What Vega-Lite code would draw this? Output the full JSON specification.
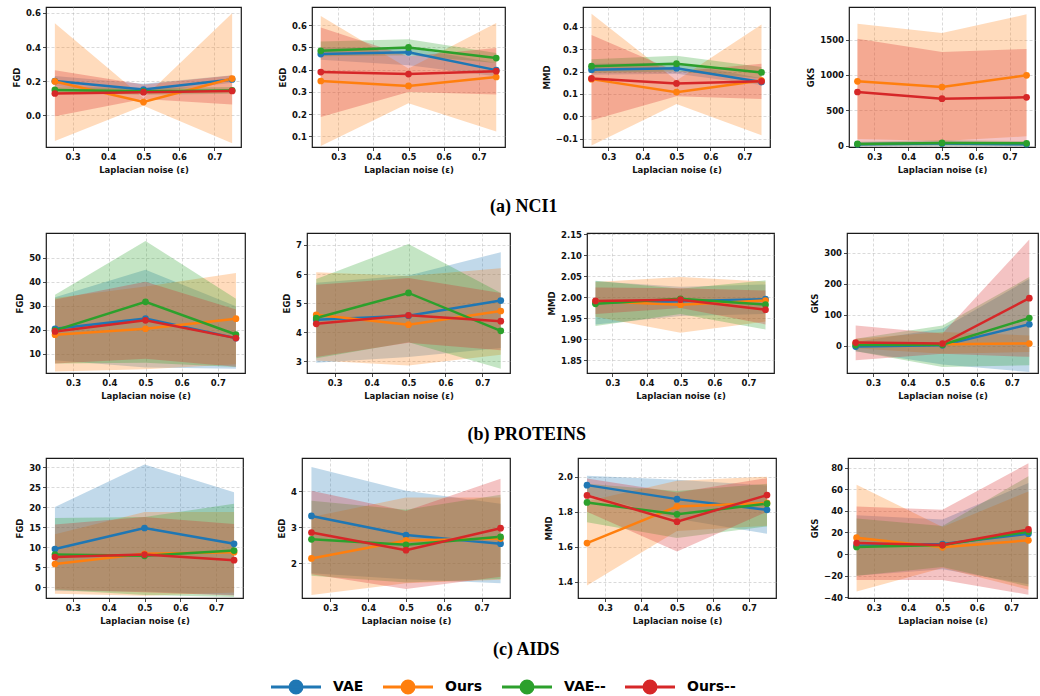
{
  "$schema": "https://vega.github.io/schema/vega-lite/v6.json",
  "padding": {"left": 11, "top": 6, "right": 2, "bottom": 0},
  "spacing": 10,
  "datasets": {
    "runs": [
      {"ds":"NCI1","metric":"FGD","model":"VAE","eps":0.25,"mean":0.20,"lo":0.17,"hi":0.23},
      {"ds":"NCI1","metric":"FGD","model":"VAE","eps":0.5,"mean":0.15,"lo":0.13,"hi":0.185},
      {"ds":"NCI1","metric":"FGD","model":"VAE","eps":0.75,"mean":0.21,"lo":0.19,"hi":0.235},
      {"ds":"NCI1","metric":"FGD","model":"Ours","eps":0.25,"mean":0.198,"lo":-0.152,"hi":0.54},
      {"ds":"NCI1","metric":"FGD","model":"Ours","eps":0.5,"mean":0.077,"lo":0.055,"hi":0.10},
      {"ds":"NCI1","metric":"FGD","model":"Ours","eps":0.75,"mean":0.215,"lo":-0.165,"hi":0.598},
      {"ds":"NCI1","metric":"FGD","model":"VAE--","eps":0.25,"mean":0.148,"lo":0.13,"hi":0.165},
      {"ds":"NCI1","metric":"FGD","model":"VAE--","eps":0.5,"mean":0.14,"lo":0.12,"hi":0.16},
      {"ds":"NCI1","metric":"FGD","model":"VAE--","eps":0.75,"mean":0.145,"lo":0.125,"hi":0.165},
      {"ds":"NCI1","metric":"FGD","model":"Ours--","eps":0.25,"mean":0.127,"lo":-0.006,"hi":0.263},
      {"ds":"NCI1","metric":"FGD","model":"Ours--","eps":0.5,"mean":0.135,"lo":0.095,"hi":0.18},
      {"ds":"NCI1","metric":"FGD","model":"Ours--","eps":0.75,"mean":0.142,"lo":0.063,"hi":0.233},

      {"ds":"NCI1","metric":"EGD","model":"VAE","eps":0.25,"mean":0.47,"lo":0.445,"hi":0.50},
      {"ds":"NCI1","metric":"EGD","model":"VAE","eps":0.5,"mean":0.478,"lo":0.42,"hi":0.50},
      {"ds":"NCI1","metric":"EGD","model":"VAE","eps":0.75,"mean":0.398,"lo":0.37,"hi":0.43},
      {"ds":"NCI1","metric":"EGD","model":"Ours","eps":0.25,"mean":0.349,"lo":0.057,"hi":0.642},
      {"ds":"NCI1","metric":"EGD","model":"Ours","eps":0.5,"mean":0.327,"lo":0.249,"hi":0.405},
      {"ds":"NCI1","metric":"EGD","model":"Ours","eps":0.75,"mean":0.367,"lo":0.122,"hi":0.61},
      {"ds":"NCI1","metric":"EGD","model":"VAE--","eps":0.25,"mean":0.485,"lo":0.46,"hi":0.527},
      {"ds":"NCI1","metric":"EGD","model":"VAE--","eps":0.5,"mean":0.50,"lo":0.465,"hi":0.537},
      {"ds":"NCI1","metric":"EGD","model":"VAE--","eps":0.75,"mean":0.452,"lo":0.43,"hi":0.475},
      {"ds":"NCI1","metric":"EGD","model":"Ours--","eps":0.25,"mean":0.389,"lo":0.187,"hi":0.59},
      {"ds":"NCI1","metric":"EGD","model":"Ours--","eps":0.5,"mean":0.38,"lo":0.30,"hi":0.46},
      {"ds":"NCI1","metric":"EGD","model":"Ours--","eps":0.75,"mean":0.393,"lo":0.288,"hi":0.497},

      {"ds":"NCI1","metric":"MMD","model":"VAE","eps":0.25,"mean":0.208,"lo":0.185,"hi":0.235},
      {"ds":"NCI1","metric":"MMD","model":"VAE","eps":0.5,"mean":0.215,"lo":0.19,"hi":0.24},
      {"ds":"NCI1","metric":"MMD","model":"VAE","eps":0.75,"mean":0.153,"lo":0.14,"hi":0.17},
      {"ds":"NCI1","metric":"MMD","model":"Ours","eps":0.25,"mean":0.166,"lo":-0.13,"hi":0.458},
      {"ds":"NCI1","metric":"MMD","model":"Ours","eps":0.5,"mean":0.108,"lo":0.055,"hi":0.16},
      {"ds":"NCI1","metric":"MMD","model":"Ours","eps":0.75,"mean":0.16,"lo":-0.084,"hi":0.41},
      {"ds":"NCI1","metric":"MMD","model":"VAE--","eps":0.25,"mean":0.224,"lo":0.195,"hi":0.255},
      {"ds":"NCI1","metric":"MMD","model":"VAE--","eps":0.5,"mean":0.235,"lo":0.20,"hi":0.27},
      {"ds":"NCI1","metric":"MMD","model":"VAE--","eps":0.75,"mean":0.196,"lo":0.17,"hi":0.22},
      {"ds":"NCI1","metric":"MMD","model":"Ours--","eps":0.25,"mean":0.169,"lo":-0.018,"hi":0.363},
      {"ds":"NCI1","metric":"MMD","model":"Ours--","eps":0.5,"mean":0.147,"lo":0.09,"hi":0.20},
      {"ds":"NCI1","metric":"MMD","model":"Ours--","eps":0.75,"mean":0.156,"lo":0.077,"hi":0.235},

      {"ds":"NCI1","metric":"GKS","model":"VAE","eps":0.25,"mean":20,"lo":-5,"hi":45},
      {"ds":"NCI1","metric":"GKS","model":"VAE","eps":0.5,"mean":30,"lo":0,"hi":60},
      {"ds":"NCI1","metric":"GKS","model":"VAE","eps":0.75,"mean":20,"lo":-5,"hi":45},
      {"ds":"NCI1","metric":"GKS","model":"Ours","eps":0.25,"mean":910,"lo":94,"hi":1726},
      {"ds":"NCI1","metric":"GKS","model":"Ours","eps":0.5,"mean":830,"lo":66,"hi":1594},
      {"ds":"NCI1","metric":"GKS","model":"Ours","eps":0.75,"mean":995,"lo":132,"hi":1858},
      {"ds":"NCI1","metric":"GKS","model":"VAE--","eps":0.25,"mean":24,"lo":-6,"hi":54},
      {"ds":"NCI1","metric":"GKS","model":"VAE--","eps":0.5,"mean":38,"lo":0,"hi":76},
      {"ds":"NCI1","metric":"GKS","model":"VAE--","eps":0.75,"mean":33,"lo":0,"hi":66},
      {"ds":"NCI1","metric":"GKS","model":"Ours--","eps":0.25,"mean":759,"lo":4,"hi":1514},
      {"ds":"NCI1","metric":"GKS","model":"Ours--","eps":0.5,"mean":665,"lo":5,"hi":1325},
      {"ds":"NCI1","metric":"GKS","model":"Ours--","eps":0.75,"mean":684,"lo":0,"hi":1368},

      {"ds":"PROTEINS","metric":"FGD","model":"VAE","eps":0.25,"mean":20.4,"lo":7.3,"hi":33.5},
      {"ds":"PROTEINS","metric":"FGD","model":"VAE","eps":0.5,"mean":24.6,"lo":4.3,"hi":44.9},
      {"ds":"PROTEINS","metric":"FGD","model":"VAE","eps":0.75,"mean":16.5,"lo":3.8,"hi":29.8},
      {"ds":"PROTEINS","metric":"FGD","model":"Ours","eps":0.25,"mean":17.9,"lo":2.6,"hi":33.2},
      {"ds":"PROTEINS","metric":"FGD","model":"Ours","eps":0.5,"mean":20.4,"lo":3.6,"hi":38.0},
      {"ds":"PROTEINS","metric":"FGD","model":"Ours","eps":0.75,"mean":24.6,"lo":5.6,"hi":43.6},
      {"ds":"PROTEINS","metric":"FGD","model":"VAE--","eps":0.25,"mean":19.7,"lo":5.9,"hi":34.5},
      {"ds":"PROTEINS","metric":"FGD","model":"VAE--","eps":0.5,"mean":31.6,"lo":6.3,"hi":56.9},
      {"ds":"PROTEINS","metric":"FGD","model":"VAE--","eps":0.75,"mean":18.0,"lo":4.5,"hi":32.9},
      {"ds":"PROTEINS","metric":"FGD","model":"Ours--","eps":0.25,"mean":19.3,"lo":6.0,"hi":32.6},
      {"ds":"PROTEINS","metric":"FGD","model":"Ours--","eps":0.5,"mean":23.9,"lo":7.9,"hi":39.9},
      {"ds":"PROTEINS","metric":"FGD","model":"Ours--","eps":0.75,"mean":16.5,"lo":4.6,"hi":28.4},

      {"ds":"PROTEINS","metric":"EGD","model":"VAE","eps":0.25,"mean":4.43,"lo":2.95,"hi":5.7},
      {"ds":"PROTEINS","metric":"EGD","model":"VAE","eps":0.5,"mean":4.57,"lo":3.15,"hi":5.95},
      {"ds":"PROTEINS","metric":"EGD","model":"VAE","eps":0.75,"mean":5.09,"lo":3.46,"hi":6.75},
      {"ds":"PROTEINS","metric":"EGD","model":"Ours","eps":0.25,"mean":4.6,"lo":3.03,"hi":6.06},
      {"ds":"PROTEINS","metric":"EGD","model":"Ours","eps":0.5,"mean":4.26,"lo":2.86,"hi":5.93},
      {"ds":"PROTEINS","metric":"EGD","model":"Ours","eps":0.75,"mean":4.73,"lo":3.23,"hi":6.2},
      {"ds":"PROTEINS","metric":"EGD","model":"VAE--","eps":0.25,"mean":4.49,"lo":3.11,"hi":5.83},
      {"ds":"PROTEINS","metric":"EGD","model":"VAE--","eps":0.5,"mean":5.35,"lo":3.66,"hi":7.03},
      {"ds":"PROTEINS","metric":"EGD","model":"VAE--","eps":0.75,"mean":4.05,"lo":2.75,"hi":5.35},
      {"ds":"PROTEINS","metric":"EGD","model":"Ours--","eps":0.25,"mean":4.29,"lo":3.15,"hi":5.63},
      {"ds":"PROTEINS","metric":"EGD","model":"Ours--","eps":0.5,"mean":4.58,"lo":3.64,"hi":5.86},
      {"ds":"PROTEINS","metric":"EGD","model":"Ours--","eps":0.75,"mean":4.38,"lo":3.38,"hi":5.35},

      {"ds":"PROTEINS","metric":"MMD","model":"VAE","eps":0.25,"mean":1.986,"lo":1.935,"hi":2.038},
      {"ds":"PROTEINS","metric":"MMD","model":"VAE","eps":0.5,"mean":1.99,"lo":1.955,"hi":2.025},
      {"ds":"PROTEINS","metric":"MMD","model":"VAE","eps":0.75,"mean":1.995,"lo":1.96,"hi":2.03},
      {"ds":"PROTEINS","metric":"MMD","model":"Ours","eps":0.25,"mean":1.99,"lo":1.953,"hi":2.036},
      {"ds":"PROTEINS","metric":"MMD","model":"Ours","eps":0.5,"mean":1.982,"lo":1.915,"hi":2.048},
      {"ds":"PROTEINS","metric":"MMD","model":"Ours","eps":0.75,"mean":1.992,"lo":1.942,"hi":2.037},
      {"ds":"PROTEINS","metric":"MMD","model":"VAE--","eps":0.25,"mean":1.984,"lo":1.931,"hi":2.039},
      {"ds":"PROTEINS","metric":"MMD","model":"VAE--","eps":0.5,"mean":1.996,"lo":1.96,"hi":2.02},
      {"ds":"PROTEINS","metric":"MMD","model":"VAE--","eps":0.75,"mean":1.982,"lo":1.923,"hi":2.04},
      {"ds":"PROTEINS","metric":"MMD","model":"Ours--","eps":0.25,"mean":1.991,"lo":1.96,"hi":2.023},
      {"ds":"PROTEINS","metric":"MMD","model":"Ours--","eps":0.5,"mean":1.994,"lo":1.974,"hi":2.021},
      {"ds":"PROTEINS","metric":"MMD","model":"Ours--","eps":0.75,"mean":1.97,"lo":1.935,"hi":2.016},

      {"ds":"PROTEINS","metric":"GKS","model":"VAE","eps":0.25,"mean":-2,"lo":-17,"hi":13},
      {"ds":"PROTEINS","metric":"GKS","model":"VAE","eps":0.5,"mean":2,"lo":-60,"hi":56},
      {"ds":"PROTEINS","metric":"GKS","model":"VAE","eps":0.75,"mean":70,"lo":-84,"hi":216},
      {"ds":"PROTEINS","metric":"GKS","model":"Ours","eps":0.25,"mean":8,"lo":-7,"hi":23},
      {"ds":"PROTEINS","metric":"GKS","model":"Ours","eps":0.5,"mean":6,"lo":-25,"hi":45},
      {"ds":"PROTEINS","metric":"GKS","model":"Ours","eps":0.75,"mean":8,"lo":-19,"hi":34},
      {"ds":"PROTEINS","metric":"GKS","model":"VAE--","eps":0.25,"mean":3,"lo":-17,"hi":23},
      {"ds":"PROTEINS","metric":"GKS","model":"VAE--","eps":0.5,"mean":4,"lo":-68,"hi":66},
      {"ds":"PROTEINS","metric":"GKS","model":"VAE--","eps":0.75,"mean":90,"lo":-62,"hi":222},
      {"ds":"PROTEINS","metric":"GKS","model":"Ours--","eps":0.25,"mean":11,"lo":-46,"hi":66},
      {"ds":"PROTEINS","metric":"GKS","model":"Ours--","eps":0.5,"mean":8,"lo":-25,"hi":40},
      {"ds":"PROTEINS","metric":"GKS","model":"Ours--","eps":0.75,"mean":154,"lo":-35,"hi":343},

      {"ds":"AIDS","metric":"FGD","model":"VAE","eps":0.25,"mean":9.5,"lo":-1.0,"hi":20.0},
      {"ds":"AIDS","metric":"FGD","model":"VAE","eps":0.5,"mean":14.75,"lo":-1.1,"hi":30.6},
      {"ds":"AIDS","metric":"FGD","model":"VAE","eps":0.75,"mean":10.8,"lo":-2.0,"hi":23.7},
      {"ds":"AIDS","metric":"FGD","model":"Ours","eps":0.25,"mean":5.75,"lo":-1.7,"hi":13.2},
      {"ds":"AIDS","metric":"FGD","model":"Ours","eps":0.5,"mean":8.3,"lo":-2.2,"hi":18.75},
      {"ds":"AIDS","metric":"FGD","model":"Ours","eps":0.75,"mean":8.7,"lo":-1.4,"hi":18.75},
      {"ds":"AIDS","metric":"FGD","model":"VAE--","eps":0.25,"mean":8.1,"lo":-0.7,"hi":17.25},
      {"ds":"AIDS","metric":"FGD","model":"VAE--","eps":0.5,"mean":7.8,"lo":-2.0,"hi":17.5},
      {"ds":"AIDS","metric":"FGD","model":"VAE--","eps":0.75,"mean":9.1,"lo":-2.5,"hi":20.8},
      {"ds":"AIDS","metric":"FGD","model":"Ours--","eps":0.25,"mean":7.5,"lo":-0.6,"hi":15.6},
      {"ds":"AIDS","metric":"FGD","model":"Ours--","eps":0.5,"mean":8.1,"lo":-1.3,"hi":17.5},
      {"ds":"AIDS","metric":"FGD","model":"Ours--","eps":0.75,"mean":6.7,"lo":-2.1,"hi":15.75},

      {"ds":"AIDS","metric":"EGD","model":"VAE","eps":0.25,"mean":3.31,"lo":1.72,"hi":4.67},
      {"ds":"AIDS","metric":"EGD","model":"VAE","eps":0.5,"mean":2.78,"lo":1.55,"hi":4.01},
      {"ds":"AIDS","metric":"EGD","model":"VAE","eps":0.75,"mean":2.54,"lo":1.44,"hi":3.65},
      {"ds":"AIDS","metric":"EGD","model":"Ours","eps":0.25,"mean":2.13,"lo":1.11,"hi":3.28},
      {"ds":"AIDS","metric":"EGD","model":"Ours","eps":0.5,"mean":2.63,"lo":1.44,"hi":3.82},
      {"ds":"AIDS","metric":"EGD","model":"Ours","eps":0.75,"mean":2.68,"lo":1.54,"hi":3.82},
      {"ds":"AIDS","metric":"EGD","model":"VAE--","eps":0.25,"mean":2.66,"lo":1.65,"hi":3.73},
      {"ds":"AIDS","metric":"EGD","model":"VAE--","eps":0.5,"mean":2.51,"lo":1.46,"hi":3.48},
      {"ds":"AIDS","metric":"EGD","model":"VAE--","eps":0.75,"mean":2.73,"lo":1.56,"hi":3.9},
      {"ds":"AIDS","metric":"EGD","model":"Ours--","eps":0.25,"mean":2.85,"lo":1.69,"hi":4.01},
      {"ds":"AIDS","metric":"EGD","model":"Ours--","eps":0.5,"mean":2.36,"lo":1.28,"hi":3.45},
      {"ds":"AIDS","metric":"EGD","model":"Ours--","eps":0.75,"mean":2.97,"lo":1.62,"hi":4.34},

      {"ds":"AIDS","metric":"MMD","model":"VAE","eps":0.25,"mean":1.952,"lo":1.90,"hi":2.006},
      {"ds":"AIDS","metric":"MMD","model":"VAE","eps":0.5,"mean":1.872,"lo":1.76,"hi":1.983},
      {"ds":"AIDS","metric":"MMD","model":"VAE","eps":0.75,"mean":1.811,"lo":1.674,"hi":1.95},
      {"ds":"AIDS","metric":"MMD","model":"Ours","eps":0.25,"mean":1.621,"lo":1.379,"hi":1.86},
      {"ds":"AIDS","metric":"MMD","model":"Ours","eps":0.5,"mean":1.83,"lo":1.69,"hi":1.977},
      {"ds":"AIDS","metric":"MMD","model":"Ours","eps":0.75,"mean":1.85,"lo":1.72,"hi":2.0},
      {"ds":"AIDS","metric":"MMD","model":"VAE--","eps":0.25,"mean":1.853,"lo":1.74,"hi":1.96},
      {"ds":"AIDS","metric":"MMD","model":"VAE--","eps":0.5,"mean":1.785,"lo":1.65,"hi":1.918},
      {"ds":"AIDS","metric":"MMD","model":"VAE--","eps":0.75,"mean":1.846,"lo":1.716,"hi":1.96},
      {"ds":"AIDS","metric":"MMD","model":"Ours--","eps":0.25,"mean":1.893,"lo":1.80,"hi":1.99},
      {"ds":"AIDS","metric":"MMD","model":"Ours--","eps":0.5,"mean":1.743,"lo":1.573,"hi":1.91},
      {"ds":"AIDS","metric":"MMD","model":"Ours--","eps":0.75,"mean":1.895,"lo":1.80,"hi":1.992},

      {"ds":"AIDS","metric":"GKS","model":"VAE","eps":0.25,"mean":7.7,"lo":-20,"hi":36},
      {"ds":"AIDS","metric":"GKS","model":"VAE","eps":0.5,"mean":9.3,"lo":-14,"hi":32},
      {"ds":"AIDS","metric":"GKS","model":"VAE","eps":0.75,"mean":18.8,"lo":-28,"hi":65.7},
      {"ds":"AIDS","metric":"GKS","model":"Ours","eps":0.25,"mean":15.1,"lo":-34.6,"hi":64.2},
      {"ds":"AIDS","metric":"GKS","model":"Ours","eps":0.5,"mean":6.2,"lo":-13,"hi":25},
      {"ds":"AIDS","metric":"GKS","model":"Ours","eps":0.75,"mean":12.7,"lo":-33,"hi":58},
      {"ds":"AIDS","metric":"GKS","model":"VAE--","eps":0.25,"mean":6.5,"lo":-20,"hi":33},
      {"ds":"AIDS","metric":"GKS","model":"VAE--","eps":0.5,"mean":8.3,"lo":-12,"hi":26},
      {"ds":"AIDS","metric":"GKS","model":"VAE--","eps":0.75,"mean":20.7,"lo":-30,"hi":72},
      {"ds":"AIDS","metric":"GKS","model":"Ours--","eps":0.25,"mean":10.2,"lo":-24,"hi":44},
      {"ds":"AIDS","metric":"GKS","model":"Ours--","eps":0.5,"mean":8.3,"lo":-24,"hi":41},
      {"ds":"AIDS","metric":"GKS","model":"Ours--","eps":0.75,"mean":22.8,"lo":-37.7,"hi":84}
    ]
  },
  "resolve": {"scale": {"color": "shared"}, "legend": {"color": "independent"}},
  "vconcat": [
    {
      "spacing": 12,
      "vconcat": [
        {
          "title": {"text": "(a) NCI1", "orient": "bottom", "anchor": "middle", "offset": 24},
          "spacing": 35,
          "hconcat": [
            {"width": 195, "height": 140, "data": {"name": "runs"},
             "transform": [{"filter": "datum.ds === 'NCI1' && datum.metric === 'FGD'"}],
             "encoding": {"x": {"field": "eps", "type": "quantitative", "title": "Laplacian noise (ε)", "scale": {"domain": [0.225, 0.775], "nice": false}, "axis": {"values": [0.3, 0.4, 0.5, 0.6, 0.7], "format": ".1f"}},
                          "color": {"field": "model", "type": "nominal", "scale": {"domain": ["VAE", "Ours", "VAE--", "Ours--"], "range": ["#1f77b4", "#ff7f0e", "#2ca02c", "#d62728"]}, "legend": null}},
             "layer": [
               {"mark": {"type": "area", "fillOpacity": 0.28}, "encoding": {"y": {"field": "lo", "type": "quantitative", "title": "FGD", "scale": {"domain": [-0.187, 0.635], "nice": false, "zero": false}, "axis": {"values": [0, 0.2, 0.4, 0.6], "format": ".1f"}}, "y2": {"field": "hi"}}},
               {"mark": {"type": "line", "strokeWidth": 2.5}, "encoding": {"y": {"field": "mean", "type": "quantitative", "title": "FGD"}}},
               {"mark": {"type": "point", "filled": true, "size": 45, "opacity": 1}, "encoding": {"y": {"field": "mean", "type": "quantitative", "title": "FGD"}}}
             ]},
            {"width": 193, "height": 140, "data": {"name": "runs"},
             "transform": [{"filter": "datum.ds === 'NCI1' && datum.metric === 'EGD'"}],
             "encoding": {"x": {"field": "eps", "type": "quantitative", "title": "Laplacian noise (ε)", "scale": {"domain": [0.225, 0.775], "nice": false}, "axis": {"values": [0.3, 0.4, 0.5, 0.6, 0.7], "format": ".1f"}},
                          "color": {"field": "model", "type": "nominal", "scale": {"domain": ["VAE", "Ours", "VAE--", "Ours--"], "range": ["#1f77b4", "#ff7f0e", "#2ca02c", "#d62728"]}, "legend": null}},
             "layer": [
               {"mark": {"type": "area", "fillOpacity": 0.28}, "encoding": {"y": {"field": "lo", "type": "quantitative", "title": "EGD", "scale": {"domain": [0.052, 0.682], "nice": false, "zero": false}, "axis": {"values": [0.1, 0.2, 0.3, 0.4, 0.5, 0.6], "format": ".1f"}}, "y2": {"field": "hi"}}},
               {"mark": {"type": "line", "strokeWidth": 2.5}, "encoding": {"y": {"field": "mean", "type": "quantitative", "title": "EGD"}}},
               {"mark": {"type": "point", "filled": true, "size": 45, "opacity": 1}, "encoding": {"y": {"field": "mean", "type": "quantitative", "title": "EGD"}}}
             ]},
            {"width": 187, "height": 140, "data": {"name": "runs"},
             "transform": [{"filter": "datum.ds === 'NCI1' && datum.metric === 'MMD'"}],
             "encoding": {"x": {"field": "eps", "type": "quantitative", "title": "Laplacian noise (ε)", "scale": {"domain": [0.225, 0.775], "nice": false}, "axis": {"values": [0.3, 0.4, 0.5, 0.6, 0.7], "format": ".1f"}},
                          "color": {"field": "model", "type": "nominal", "scale": {"domain": ["VAE", "Ours", "VAE--", "Ours--"], "range": ["#1f77b4", "#ff7f0e", "#2ca02c", "#d62728"]}, "legend": null}},
             "layer": [
               {"mark": {"type": "area", "fillOpacity": 0.28}, "encoding": {"y": {"field": "lo", "type": "quantitative", "title": "MMD", "scale": {"domain": [-0.137, 0.488], "nice": false, "zero": false}, "axis": {"values": [-0.1, 0, 0.1, 0.2, 0.3, 0.4], "format": ".1f"}}, "y2": {"field": "hi"}}},
               {"mark": {"type": "line", "strokeWidth": 2.5}, "encoding": {"y": {"field": "mean", "type": "quantitative", "title": "MMD"}}},
               {"mark": {"type": "point", "filled": true, "size": 45, "opacity": 1}, "encoding": {"y": {"field": "mean", "type": "quantitative", "title": "MMD"}}}
             ]},
            {"width": 186, "height": 140, "data": {"name": "runs"},
             "transform": [{"filter": "datum.ds === 'NCI1' && datum.metric === 'GKS'"}],
             "encoding": {"x": {"field": "eps", "type": "quantitative", "title": "Laplacian noise (ε)", "scale": {"domain": [0.225, 0.775], "nice": false}, "axis": {"values": [0.3, 0.4, 0.5, 0.6, 0.7], "format": ".1f"}},
                          "color": {"field": "model", "type": "nominal", "scale": {"domain": ["VAE", "Ours", "VAE--", "Ours--"], "range": ["#1f77b4", "#ff7f0e", "#2ca02c", "#d62728"]}, "legend": null}},
             "layer": [
               {"mark": {"type": "area", "fillOpacity": 0.28}, "encoding": {"y": {"field": "lo", "type": "quantitative", "title": "GKS", "scale": {"domain": [-19, 1962], "nice": false, "zero": false}, "axis": {"values": [0, 500, 1000, 1500], "format": "d"}}, "y2": {"field": "hi"}}},
               {"mark": {"type": "line", "strokeWidth": 2.5}, "encoding": {"y": {"field": "mean", "type": "quantitative", "title": "GKS"}}},
               {"mark": {"type": "point", "filled": true, "size": 45, "opacity": 1}, "encoding": {"y": {"field": "mean", "type": "quantitative", "title": "GKS"}}}
             ]}
          ]
        },
        {
          "title": {"text": "(b) PROTEINS", "orient": "bottom", "anchor": "middle", "offset": 26},
          "spacing": 35,
          "hconcat": [
            {"width": 199, "height": 140, "data": {"name": "runs"},
             "transform": [{"filter": "datum.ds === 'PROTEINS' && datum.metric === 'FGD'"}],
             "encoding": {"x": {"field": "eps", "type": "quantitative", "title": "Laplacian noise (ε)", "scale": {"domain": [0.225, 0.775], "nice": false}, "axis": {"values": [0.3, 0.4, 0.5, 0.6, 0.7], "format": ".1f"}},
                          "color": {"field": "model", "type": "nominal", "scale": {"domain": ["VAE", "Ours", "VAE--", "Ours--"], "range": ["#1f77b4", "#ff7f0e", "#2ca02c", "#d62728"]}, "legend": null}},
             "layer": [
               {"mark": {"type": "area", "fillOpacity": 0.28}, "encoding": {"y": {"field": "lo", "type": "quantitative", "title": "FGD", "scale": {"domain": [2.0, 60.2], "nice": false, "zero": false}, "axis": {"values": [10, 20, 30, 40, 50], "format": "d"}}, "y2": {"field": "hi"}}},
               {"mark": {"type": "line", "strokeWidth": 2.5}, "encoding": {"y": {"field": "mean", "type": "quantitative", "title": "FGD"}}},
               {"mark": {"type": "point", "filled": true, "size": 45, "opacity": 1}, "encoding": {"y": {"field": "mean", "type": "quantitative", "title": "FGD"}}}
             ]},
            {"width": 203, "height": 140, "data": {"name": "runs"},
             "transform": [{"filter": "datum.ds === 'PROTEINS' && datum.metric === 'EGD'"}],
             "encoding": {"x": {"field": "eps", "type": "quantitative", "title": "Laplacian noise (ε)", "scale": {"domain": [0.225, 0.775], "nice": false}, "axis": {"values": [0.3, 0.4, 0.5, 0.6, 0.7], "format": ".1f"}},
                          "color": {"field": "model", "type": "nominal", "scale": {"domain": ["VAE", "Ours", "VAE--", "Ours--"], "range": ["#1f77b4", "#ff7f0e", "#2ca02c", "#d62728"]}, "legend": null}},
             "layer": [
               {"mark": {"type": "area", "fillOpacity": 0.28}, "encoding": {"y": {"field": "lo", "type": "quantitative", "title": "EGD", "scale": {"domain": [2.6, 7.41], "nice": false, "zero": false}, "axis": {"values": [3, 4, 5, 6, 7], "format": "d"}}, "y2": {"field": "hi"}}},
               {"mark": {"type": "line", "strokeWidth": 2.5}, "encoding": {"y": {"field": "mean", "type": "quantitative", "title": "EGD"}}},
               {"mark": {"type": "point", "filled": true, "size": 45, "opacity": 1}, "encoding": {"y": {"field": "mean", "type": "quantitative", "title": "EGD"}}}
             ]},
            {"width": 187, "height": 140, "data": {"name": "runs"},
             "transform": [{"filter": "datum.ds === 'PROTEINS' && datum.metric === 'MMD'"}],
             "encoding": {"x": {"field": "eps", "type": "quantitative", "title": "Laplacian noise (ε)", "scale": {"domain": [0.225, 0.775], "nice": false}, "axis": {"values": [0.3, 0.4, 0.5, 0.6, 0.7], "format": ".1f"}},
                          "color": {"field": "model", "type": "nominal", "scale": {"domain": ["VAE", "Ours", "VAE--", "Ours--"], "range": ["#1f77b4", "#ff7f0e", "#2ca02c", "#d62728"]}, "legend": null}},
             "layer": [
               {"mark": {"type": "area", "fillOpacity": 0.28}, "encoding": {"y": {"field": "lo", "type": "quantitative", "title": "MMD", "scale": {"domain": [1.819, 2.153], "nice": false, "zero": false}, "axis": {"values": [1.85, 1.9, 1.95, 2.0, 2.05, 2.1, 2.15], "format": ".2f"}}, "y2": {"field": "hi"}}},
               {"mark": {"type": "line", "strokeWidth": 2.5}, "encoding": {"y": {"field": "mean", "type": "quantitative", "title": "MMD"}}},
               {"mark": {"type": "point", "filled": true, "size": 45, "opacity": 1}, "encoding": {"y": {"field": "mean", "type": "quantitative", "title": "MMD"}}}
             ]},
            {"width": 191, "height": 140, "data": {"name": "runs"},
             "transform": [{"filter": "datum.ds === 'PROTEINS' && datum.metric === 'GKS'"}],
             "encoding": {"x": {"field": "eps", "type": "quantitative", "title": "Laplacian noise (ε)", "scale": {"domain": [0.225, 0.775], "nice": false}, "axis": {"values": [0.3, 0.4, 0.5, 0.6, 0.7], "format": ".1f"}},
                          "color": {"field": "model", "type": "nominal", "scale": {"domain": ["VAE", "Ours", "VAE--", "Ours--"], "range": ["#1f77b4", "#ff7f0e", "#2ca02c", "#d62728"]}, "legend": null}},
             "layer": [
               {"mark": {"type": "area", "fillOpacity": 0.28}, "encoding": {"y": {"field": "lo", "type": "quantitative", "title": "GKS", "scale": {"domain": [-87, 364], "nice": false, "zero": false}, "axis": {"values": [0, 100, 200, 300], "format": "d"}}, "y2": {"field": "hi"}}},
               {"mark": {"type": "line", "strokeWidth": 2.5}, "encoding": {"y": {"field": "mean", "type": "quantitative", "title": "GKS"}}},
               {"mark": {"type": "point", "filled": true, "size": 45, "opacity": 1}, "encoding": {"y": {"field": "mean", "type": "quantitative", "title": "GKS"}}}
             ]}
          ]
        },
        {
          "title": {"text": "(c) AIDS", "orient": "bottom", "anchor": "middle", "offset": 16},
          "spacing": 32,
          "hconcat": [
            {"width": 197, "height": 140, "data": {"name": "runs"},
             "transform": [{"filter": "datum.ds === 'AIDS' && datum.metric === 'FGD'"}],
             "encoding": {"x": {"field": "eps", "type": "quantitative", "title": "Laplacian noise (ε)", "scale": {"domain": [0.225, 0.775], "nice": false}, "axis": {"values": [0.3, 0.4, 0.5, 0.6, 0.7], "format": ".1f"}},
                          "color": {"field": "model", "type": "nominal", "scale": {"domain": ["VAE", "Ours", "VAE--", "Ours--"], "range": ["#1f77b4", "#ff7f0e", "#2ca02c", "#d62728"]}, "legend": null}},
             "layer": [
               {"mark": {"type": "area", "fillOpacity": 0.28}, "encoding": {"y": {"field": "lo", "type": "quantitative", "title": "FGD", "scale": {"domain": [-2.75, 32.25], "nice": false, "zero": false}, "axis": {"values": [0, 5, 10, 15, 20, 25, 30], "format": "d"}}, "y2": {"field": "hi"}}},
               {"mark": {"type": "line", "strokeWidth": 2.5}, "encoding": {"y": {"field": "mean", "type": "quantitative", "title": "FGD"}}},
               {"mark": {"type": "point", "filled": true, "size": 45, "opacity": 1}, "encoding": {"y": {"field": "mean", "type": "quantitative", "title": "FGD"}}}
             ]},
            {"width": 208, "height": 140, "data": {"name": "runs"},
             "transform": [{"filter": "datum.ds === 'AIDS' && datum.metric === 'EGD'"}],
             "encoding": {"x": {"field": "eps", "type": "quantitative", "title": "Laplacian noise (ε)", "scale": {"domain": [0.225, 0.775], "nice": false}, "axis": {"values": [0.3, 0.4, 0.5, 0.6, 0.7], "format": ".1f"}},
                          "color": {"field": "model", "type": "nominal", "scale": {"domain": ["VAE", "Ours", "VAE--", "Ours--"], "range": ["#1f77b4", "#ff7f0e", "#2ca02c", "#d62728"]}, "legend": null}},
             "layer": [
               {"mark": {"type": "area", "fillOpacity": 0.28}, "encoding": {"y": {"field": "lo", "type": "quantitative", "title": "EGD", "scale": {"domain": [1.03, 4.92], "nice": false, "zero": false}, "axis": {"values": [2, 3, 4], "format": "d"}}, "y2": {"field": "hi"}}},
               {"mark": {"type": "line", "strokeWidth": 2.5}, "encoding": {"y": {"field": "mean", "type": "quantitative", "title": "EGD"}}},
               {"mark": {"type": "point", "filled": true, "size": 45, "opacity": 1}, "encoding": {"y": {"field": "mean", "type": "quantitative", "title": "EGD"}}}
             ]},
            {"width": 198, "height": 140, "data": {"name": "runs"},
             "transform": [{"filter": "datum.ds === 'AIDS' && datum.metric === 'MMD'"}],
             "encoding": {"x": {"field": "eps", "type": "quantitative", "title": "Laplacian noise (ε)", "scale": {"domain": [0.225, 0.775], "nice": false}, "axis": {"values": [0.3, 0.4, 0.5, 0.6, 0.7], "format": ".1f"}},
                          "color": {"field": "model", "type": "nominal", "scale": {"domain": ["VAE", "Ours", "VAE--", "Ours--"], "range": ["#1f77b4", "#ff7f0e", "#2ca02c", "#d62728"]}, "legend": null}},
             "layer": [
               {"mark": {"type": "area", "fillOpacity": 0.28}, "encoding": {"y": {"field": "lo", "type": "quantitative", "title": "MMD", "scale": {"domain": [1.307, 2.107], "nice": false, "zero": false}, "axis": {"values": [1.4, 1.6, 1.8, 2.0], "format": ".1f"}}, "y2": {"field": "hi"}}},
               {"mark": {"type": "line", "strokeWidth": 2.5}, "encoding": {"y": {"field": "mean", "type": "quantitative", "title": "MMD"}}},
               {"mark": {"type": "point", "filled": true, "size": 45, "opacity": 1}, "encoding": {"y": {"field": "mean", "type": "quantitative", "title": "MMD"}}}
             ]},
            {"width": 189, "height": 140, "data": {"name": "runs"},
             "transform": [{"filter": "datum.ds === 'AIDS' && datum.metric === 'GKS'"}],
             "encoding": {"x": {"field": "eps", "type": "quantitative", "title": "Laplacian noise (ε)", "scale": {"domain": [0.225, 0.775], "nice": false}, "axis": {"values": [0.3, 0.4, 0.5, 0.6, 0.7], "format": ".1f"}},
                          "color": {"field": "model", "type": "nominal", "scale": {"domain": ["VAE", "Ours", "VAE--", "Ours--"], "range": ["#1f77b4", "#ff7f0e", "#2ca02c", "#d62728"]}, "legend": null}},
             "layer": [
               {"mark": {"type": "area", "fillOpacity": 0.28}, "encoding": {"y": {"field": "lo", "type": "quantitative", "title": "GKS", "scale": {"domain": [-40.7, 88.9], "nice": false, "zero": false}, "axis": {"values": [-40, -20, 0, 20, 40, 60, 80], "format": "d"}}, "y2": {"field": "hi"}}},
               {"mark": {"type": "line", "strokeWidth": 2.5}, "encoding": {"y": {"field": "mean", "type": "quantitative", "title": "GKS"}}},
               {"mark": {"type": "point", "filled": true, "size": 45, "opacity": 1}, "encoding": {"y": {"field": "mean", "type": "quantitative", "title": "GKS"}}}
             ]}
          ]
        }
      ]
    },
    {
      "width": 236, "height": 1,
      "view": {"stroke": null},
      "data": {"values": [{"model": "VAE"}, {"model": "Ours"}, {"model": "VAE--"}, {"model": "Ours--"}]},
      "mark": {"type": "point", "filled": true, "opacity": 0},
      "encoding": {
        "color": {"field": "model", "type": "nominal",
          "scale": {"domain": ["VAE", "Ours", "VAE--", "Ours--"], "range": ["#1f77b4", "#ff7f0e", "#2ca02c", "#d62728"]},
          "legend": {
            "title": null, "orient": "right", "direction": "horizontal", "offset": 0, "padding": 0,
            "symbolType": "M-2,0L2,0M-0.48,0A0.48,0.48,0,1,1,0.48,0A0.48,0.48,0,1,1,-0.48,0Z",
            "symbolSize": 625, "symbolStrokeWidth": 3,
            "labelFont": "DejaVu Sans", "labelFontSize": 14, "labelFontWeight": "bold", "labelColor": "#000",
            "labelOffset": 23, "columnPadding": 13,
            "encode": {"symbols": {"update": {
              "fill": {"scale": "color", "field": "value"},
              "stroke": {"scale": "color", "field": "value"},
              "opacity": {"value": 1}, "fillOpacity": {"value": 1}, "strokeOpacity": {"value": 1}
            }}}
          }
        }
      }
    }
  ],
  "config": {
    "font": "DejaVu Sans",
    "view": {"stroke": "#1a1a1a", "strokeWidth": 1.2},
    "axis": {
      "domain": false, "grid": true, "gridColor": "#b0b0b0", "gridDash": [3, 2], "gridOpacity": 0.6, "gridWidth": 0.8,
      "ticks": true, "tickColor": "#1a1a1a", "tickSize": 3.5, "tickWidth": 0.8, "tickCount": 20,
      "labelFont": "DejaVu Sans", "labelFontSize": 8.5, "labelFontWeight": "bold", "labelColor": "#111", "labelPadding": 2,
      "labelFlush": false, "labelOverlap": false,
      "titleFont": "DejaVu Sans", "titleFontSize": 8.5, "titleFontWeight": "bold", "titleColor": "#111", "titlePadding": 4
    },
    "title": {"font": "Liberation Serif", "fontSize": 18, "fontWeight": "bold", "color": "#000"}
  }
}
